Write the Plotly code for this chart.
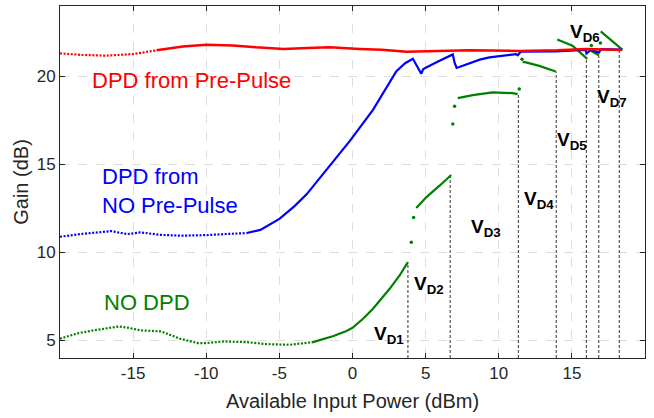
import plotly.graph_objects as go

# ---------------- data ----------------
red_x = [-20, -18.5, -16.8, -15, -13.4, -11.6, -10, -8.2, -6.6, -4.7, -3.1, -1.55, 0.5,
         2.0, 3.7, 5.5, 8.0, 11.4, 14.0, 16.0, 18.4]
red_y = [21.31, 21.22, 21.18, 21.27, 21.48, 21.70, 21.80, 21.76, 21.65, 21.56, 21.61, 21.65, 21.56,
         21.52, 21.40, 21.45, 21.48, 21.45, 21.48, 21.55, 21.50]

blue_x = [-20, -18.5, -16.5, -15.4, -14.5, -13.2, -11.8, -10, -8.5, -7.23, -6.3, -5, -4, -3.14,
          -1.55, -0.18, 1.4, 3.0, 3.6, 4.13, 4.3, 4.59, 4.7, 4.83, 5.04, 5.95, 6.86, 6.98, 7.12,
          8.7, 9.36, 11.18, 11.3, 11.5, 13.9, 15.95, 16.0, 16.3, 16.84, 17.0, 18.45]
blue_y = [10.89, 11.05, 11.21, 11.04, 11.14, 11.0, 10.95, 10.98, 11.05, 11.1, 11.28, 11.9, 12.6, 13.3,
          14.92, 16.34, 18.1, 20.3, 20.75, 21.0, 20.75, 20.3, 20.15, 20.4, 20.51, 20.89, 21.25, 20.78, 20.48,
          20.95, 21.08, 21.27, 21.2, 21.4, 21.42, 21.51, 21.3, 21.5, 21.35, 21.55, 21.52]

# NO DPD: separate segments (None breaks the line between measurement ranges)
green_x = [-20, -18.8, -17.7, -16.0, -15.4, -14.5, -13.1, -11.8, -10.6, -10, -8.8, -7.2, -5.9, -4.3,
           -2.7, -1.3, -0.5, 0.0, 0.72, 1.4, 2.54, 3.22, 3.79, None,
           4.36, 5.04, 5.95, 6.75, None,
           7.2, 8.22, 9.58, 10.95, 11.29, None,
           11.63, 11.86, 12.77, 13.9, None,
           14.0, 15.04, 16.05, None,
           16.1, 16.84, None,
           16.97, 18.45]
green_y = [5.1, 5.4, 5.57, 5.79, 5.73, 5.57, 5.51, 5.1, 4.85, 4.85, 4.94, 4.9, 4.79, 4.75,
           4.9, 5.25, 5.5, 5.72, 6.23, 6.8, 7.93, 8.69, 9.45, None,
           12.52, 13.13, 13.79, 14.4, None,
           18.77, 18.94, 19.09, 19.05, 18.99, None,
           20.83, 20.8, 20.6, 20.28, None,
           22.1, 21.74, 21.0, None,
           21.55, 21.2, None,
           22.56, 21.52]
green_pts_x = [4.02, 4.18, 6.86, 6.98, 11.4, 11.59, 16.33, 16.95]
green_pts_y = [10.57, 11.99, 17.29, 18.3, 19.28, 20.98, 21.75, 21.9]

# where each measured curve stops looking like sparse dots and becomes dense
red_sparse_until = -13.4
blue_sparse_until = -7.23
green_sparse_until = -2.7

# VD markers: switching points
vd_names = ["D1", "D2", "D3", "D4", "D5", "D6", "D7"]
vd_x = [3.79, 6.68, 11.34, 13.93, 15.99, 16.84, 18.24]
vd_top = [9.45, 14.38, 19.0, 20.28, 21.0, 21.2, 21.5]
vd_label_x = [2.49, 5.26, 9.13, 12.73, 15.01, 15.93, 17.72]
vd_label_y = [5.32, 8.16, 11.36, 12.97, 16.33, 22.47, 18.75]

x_ticks = [-15, -10, -5, 0, 5, 10, 15, 20]
y_ticks = [5, 10, 15, 20]
y_floor = 4

FONT = "Liberation Sans, Arial, Helvetica, sans-serif"
RED, BLUE, GREEN = "#ff0000", "#0000ff", "#008000"
AX = "#262626"

fig = go.Figure()

# dashed vertical guide lines
vx, vy = [], []
for x, t in zip(vd_x, vd_top):
    vx += [x, x, None]
    vy += [y_floor, t, None]
fig.add_trace(go.Scatter(x=vx, y=vy, mode="lines", line=dict(color="#333333", width=1, dash="3px,2px"),
                         hoverinfo="skip", showlegend=False))


def add_curve(xs, ys, color, split, width):
    # sparse (dotted) part and dense (solid) part share the split point
    i = xs.index(split)
    fig.add_trace(go.Scatter(x=xs[:i + 1], y=ys[:i + 1], mode="lines",
                             line=dict(color=color, width=2.2, dash="2px,1.6px"),
                             showlegend=False, hoverinfo="skip"))
    fig.add_trace(go.Scatter(x=xs[i:], y=ys[i:], mode="lines", connectgaps=False,
                             line=dict(color=color, width=width), showlegend=False))


add_curve(green_x, green_y, GREEN, green_sparse_until, 2.2)
fig.add_trace(go.Scatter(x=green_pts_x, y=green_pts_y, mode="markers",
                         marker=dict(color=GREEN, size=3.5), showlegend=False))
add_curve(blue_x, blue_y, BLUE, blue_sparse_until, 2.2)
add_curve(red_x, red_y, RED, red_sparse_until, 2.5)

ann = []
ann.append(dict(x=-17.96, y=19.76, text="DPD from Pre-Pulse", font=dict(color=RED, size=22, family=FONT)))
ann.append(dict(x=-17.27, y=13.49, text="DPD from<br>NO Pre-Pulse", align="left",
                font=dict(color=BLUE, size=22, family=FONT)))
ann.append(dict(x=-17.16, y=7.13, text="NO DPD", font=dict(color=GREEN, size=22, family=FONT)))
for a in ann:
    a.update(xref="x", yref="y", xanchor="left", yanchor="middle", showarrow=False)

for n, lx, ly in zip(vd_names, vd_label_x, vd_label_y):
    ann.append(dict(x=lx, y=ly, xref="x", yref="y", showarrow=False, xanchor="center", yanchor="middle",
                    text=f"<b>V<sub>{n}</sub></b>", font=dict(color="#000000", size=19, family=FONT)))

axis_common = dict(
    showline=True, linecolor=AX, linewidth=1, mirror="ticks",
    ticks="inside", ticklen=5, tickcolor=AX, tickwidth=1,
    showgrid=True, gridcolor="#dedede", gridwidth=1, griddash="dash",
    zeroline=False, tickfont=dict(size=17, color=AX, family=FONT),
)

fig.update_layout(
    width=654, height=418,
    margin=dict(l=60, r=9, t=6, b=60),
    paper_bgcolor="white", plot_bgcolor="white",
    font=dict(family=FONT, color=AX),
    annotations=ann,
    xaxis=dict(range=[-20, 20], tickvals=x_ticks, ticktext=[str(v) for v in x_ticks],
               title=dict(text="Available Input Power (dBm)", font=dict(size=20, color=AX, family=FONT),
                          standoff=11),
               **axis_common),
    yaxis=dict(range=[4, 24], tickvals=y_ticks, ticktext=[str(v) for v in y_ticks],
               title=dict(text="Gain (dB)", font=dict(size=20, color=AX, family=FONT), standoff=2),
               **axis_common),
)

fig.write_html("out.html")
